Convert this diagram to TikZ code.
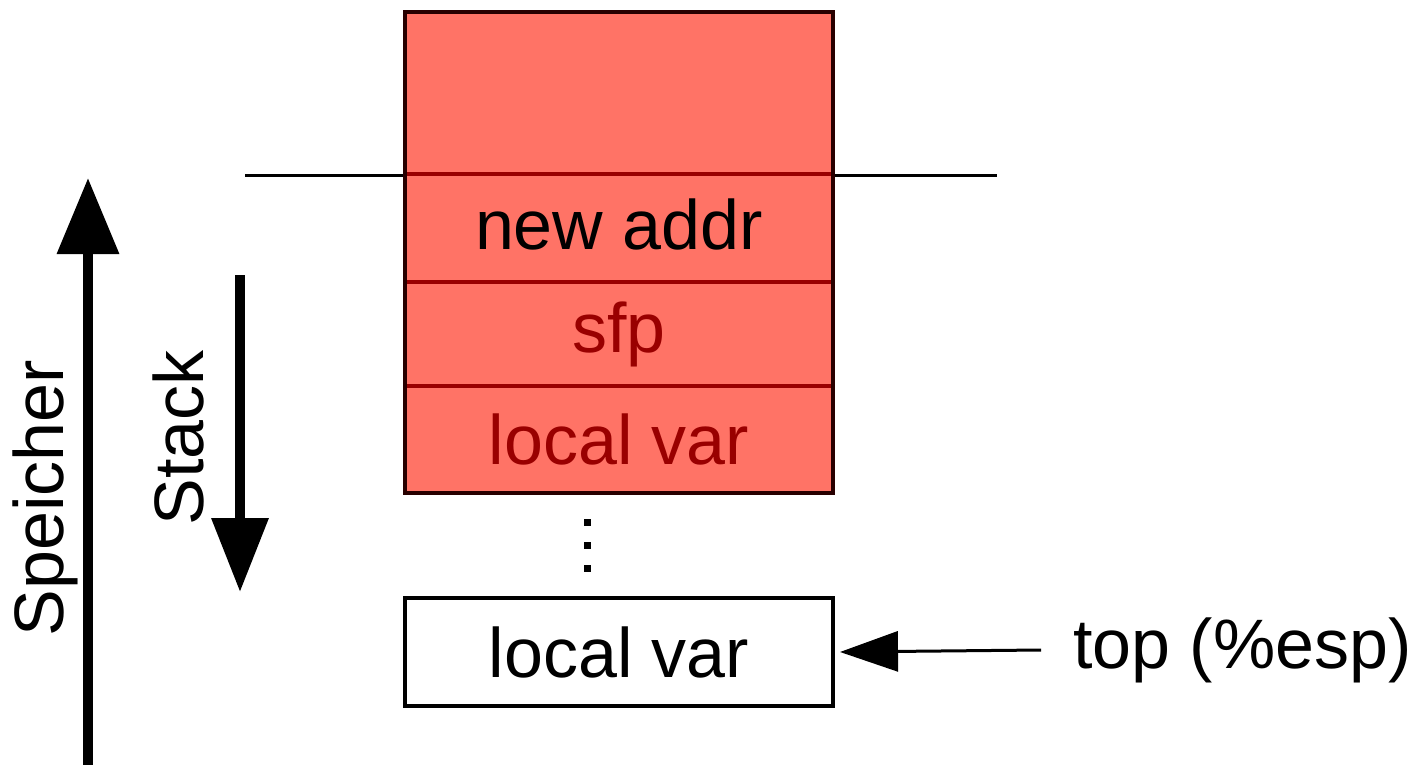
\documentclass[tikz,border=0pt]{standalone}
\usepackage{fontspec}
\setmainfont{Liberation Sans}
\usetikzlibrary{arrows.meta,positioning}
\definecolor{stackred}{RGB}{255,115,102}
\definecolor{darkred}{RGB}{153,0,0}
\definecolor{frame}{RGB}{40,0,0}

\begin{document}
\begin{tikzpicture}[x=0.5pt,y=-0.5pt,
  cell/.style={draw=darkred,line width=2pt,fill=stackred,minimum width=214pt,
    inner sep=0pt,outer sep=0pt,text=darkred,font=\fontsize{35}{42}\selectfont},
  lbl/.style={inner sep=0pt,font=\fontsize{35}{42}\selectfont}]
  \useasboundingbox (0,0) rectangle (1424,765);

  % frame boundary
  \coordinate (bl) at (245,175);
  \coordinate (br) at (997,175);
  \draw[line width=1.5pt] (bl) -- (br);

  % stack frame
  \node[cell,minimum height=81pt] (free) at (619,93) {};
  \node[cell,minimum height=54pt,text=black] (addr) at (619,228) {\raisebox{4pt}{new addr}};
  \node[cell,minimum height=52pt] (sfp) at (619,334) {sfp};
  \node[cell,minimum height=53.5pt] (var) at (619,439.5) {local var};
  \draw[frame,line width=2pt] (free.north west) rectangle (var.south east);

  \foreach \y in {522,545,568}
    \fill (583.5,\y-3.5) rectangle ++(7,7);

  \node[cell,fill=white,draw=black,text=black,minimum height=54pt,outer xsep=3.5pt]
    (top) at (619,652) {local var};
  \node[lbl,anchor=west,outer xsep=16pt] (esp) at (1041,650) {top (\%esp)};
  \draw[-{Triangle[length=29pt,width=20pt]},line width=1.5pt] (esp.west) -- (top.east);

  % memory and stack direction
  \coordinate (membot) at (88,765);
  \coordinate (memtop) at (88,178);
  \draw[line width=5pt,-{Triangle[length=38pt,width=30pt]}] (membot) -- (memtop);
  \node[lbl,rotate=90] (mem) at (45,498) {Speicher};

  \coordinate (stktop) at (240,275);
  \coordinate (stkbot) at (240,592);
  \draw[line width=5pt,-{Triangle[length=37pt,width=27.5pt]}] (stktop) -- (stkbot);
  \node[lbl,rotate=90] (stk) at (178,438) {Stack};
\end{tikzpicture}
\end{document}
